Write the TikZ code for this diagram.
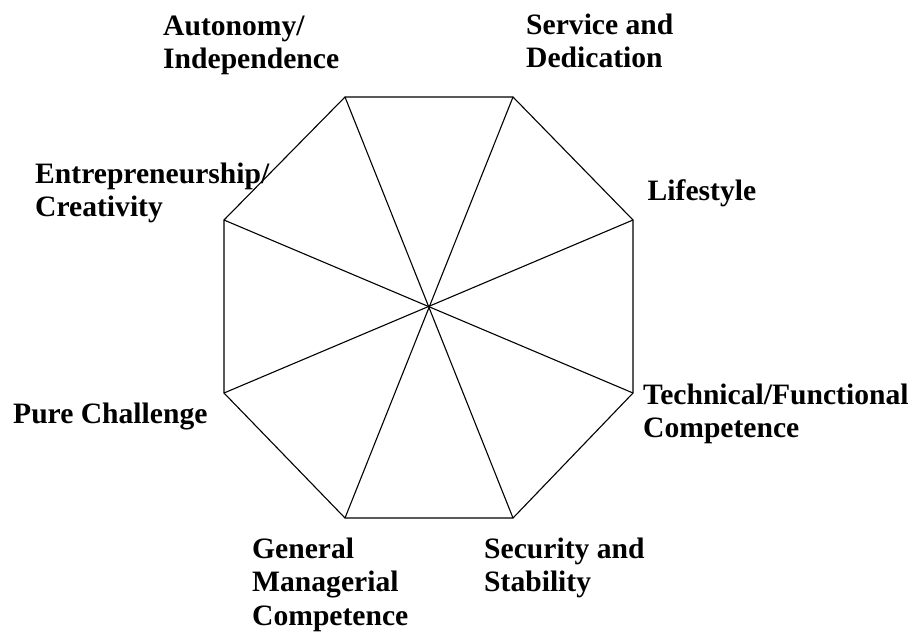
\documentclass[tikz,border=0pt]{standalone}
\usepackage{fontspec}
\setmainfont{Liberation Serif}
\begin{document}
\begin{tikzpicture}[x=1pt,y=-1pt,
  edge/.style={line width=1.1pt,line join=miter},
  lbl/.style={anchor=base west,inner sep=0pt,align=left,
    font=\fontsize{29.6}{33.4}\selectfont\bfseries}]
\useasboundingbox (0,0) rectangle (917,633);
\coordinate (v1) at (345,97);
\coordinate (v2) at (513,97);
\coordinate (v3) at (633,220);
\coordinate (v4) at (633,393);
\coordinate (v5) at (513,518);
\coordinate (v6) at (345,518);
\coordinate (v7) at (224,393);
\coordinate (v8) at (224,220);
\draw[edge] (v1) -- (v2) -- (v3) -- (v4) -- (v5) -- (v6) -- (v7) -- (v8) -- cycle;
\draw[edge] (v1) -- (v5);
\draw[edge] (v2) -- (v6);
\draw[edge] (v3) -- (v7);
\draw[edge] (v4) -- (v8);
% anchor = baseline of the last line
\node[lbl] (auto) at (163,68.4) {Autonomy/\\Independence};
\node[lbl] (serv) at (526,67.5) {Service and\\Dedication};
\node[lbl] (entr) at (35,216.5) {Entrepreneurship/\\Creativity};
\node[lbl] (life) at (647.5,200) {Lifestyle};
\node[lbl] (pure) at (13,423.5) {Pure Challenge};
\node[lbl] (tech) at (643,437.5) {Technical/Functional\\Competence};
\node[lbl] (gen) at (252,625) {General\\Managerial\\Competence};
\node[lbl] (sec) at (484,591.8) {Security and\\Stability};
\end{tikzpicture}
\end{document}
